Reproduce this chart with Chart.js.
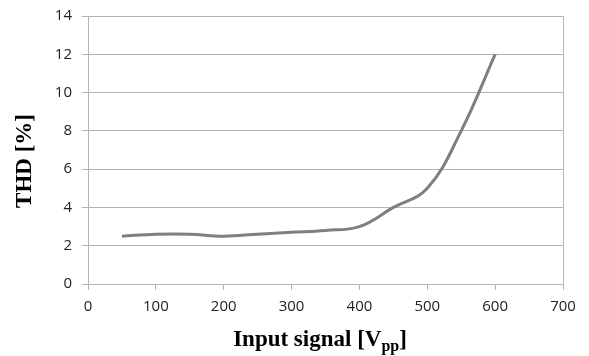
<!DOCTYPE html>
<html lang="en">
<head>
  <meta charset="UTF-8">
  <title>THD vs Input signal</title>
  <script src="https://cdn.jsdelivr.net/npm/chart.js"></script>
  <style>
    html, body { margin: 0; padding: 0; background: #fff; }
    .chart-container { position: relative; width: 589px; height: 356px; }
  </style>
</head>
<body>
  <div class="chart-container">
    <canvas id="chart"></canvas>
  </div>

  <script>
    // input signal [Vpp] and THD [%]
    const inputVpp = [50, 100, 150, 200, 250, 300, 350, 400, 450, 500, 550, 600];
    const thdPercent = [2.5, 2.6, 2.6, 2.5, 2.6, 2.7, 2.8, 3.0, 4.0, 5.0, 8.0, 12.0];
    const xTicks = [0, 100, 200, 300, 400, 500, 600, 700];
    const yTicks = [0, 2, 4, 6, 8, 10, 12, 14];

    const gridGrey = '#b3b3b3';
    const tickFont = { family: "'Open Sans', 'Liberation Sans', sans-serif", size: 15 };

    // axis titles, with the "pp" subscript on the x title
    const titlesPlugin = {
      id: 'titles',
      afterDraw(chart) {
        const ctx = chart.ctx;
        const area = chart.chartArea;
        ctx.save();
        ctx.fillStyle = '#000';
        ctx.textBaseline = 'alphabetic';

        const big = "bold 23px 'Liberation Serif', 'Times New Roman', serif";
        const small = "bold 16px 'Liberation Serif', 'Times New Roman', serif";
        const parts = [['Input signal [V', big, 0], ['pp', small, 5], [']', big, 0]];
        let total = 0;
        parts.forEach(p => { ctx.font = p[1]; total += ctx.measureText(p[0]).width; });
        let x = 320 - total / 2;
        parts.forEach(p => {
          ctx.font = p[1];
          ctx.fillText(p[0], x, 346 + p[2]);
          x += ctx.measureText(p[0]).width;
        });

        ctx.translate(25, 161);
        ctx.rotate(-Math.PI / 2);
        ctx.font = big;
        ctx.textAlign = 'center';
        ctx.textBaseline = 'middle';
        ctx.fillText('THD [%]', 0, 0);
        ctx.restore();

        // right border of the plot
        ctx.save();
        ctx.strokeStyle = gridGrey;
        ctx.lineWidth = 1;
        ctx.beginPath();
        ctx.moveTo(Math.round(area.right) + 0.5, area.top);
        ctx.lineTo(Math.round(area.right) + 0.5, area.bottom);
        ctx.stroke();
        ctx.restore();
      }
    };

    new Chart(document.getElementById('chart'), {
      type: 'line',
      data: {
        datasets: [{
          data: inputVpp.map((v, i) => ({ x: v, y: thdPercent[i] })),
          borderColor: '#7f7f7f',
          borderWidth: 3,
          pointRadius: 0,
          fill: false,
          tension: 0.4
        }]
      },
      options: {
        responsive: true,
        maintainAspectRatio: false,
        animation: false,
        layout: { padding: { top: 16, right: 26, left: 0, bottom: 0 } },
        plugins: { legend: { display: false }, tooltip: { enabled: false } },
        scales: {
          x: {
            type: 'linear',
            min: 0,
            max: 700,
            afterBuildTicks: s => { s.ticks = xTicks.map(v => ({ value: v })); },
            afterFit: s => { s.height = 72; s.paddingLeft = 0; s.paddingRight = 0; },
            grid: { drawOnChartArea: false, drawTicks: true, tickLength: 6, color: gridGrey },
            border: { color: gridGrey },
            ticks: { color: '#222', font: tickFont, padding: 8, maxRotation: 0 }
          },
          y: {
            min: 0,
            max: 14,
            afterBuildTicks: s => { s.ticks = yTicks.map(v => ({ value: v })); },
            afterFit: s => { s.width = 88; s.paddingTop = 0; s.paddingBottom = 0; },
            grid: { color: gridGrey, tickLength: 6 },
            border: { color: gridGrey },
            ticks: { color: '#222', font: tickFont, padding: 10 }
          }
        }
      },
      plugins: [titlesPlugin]
    });
  </script>
</body>
</html>
